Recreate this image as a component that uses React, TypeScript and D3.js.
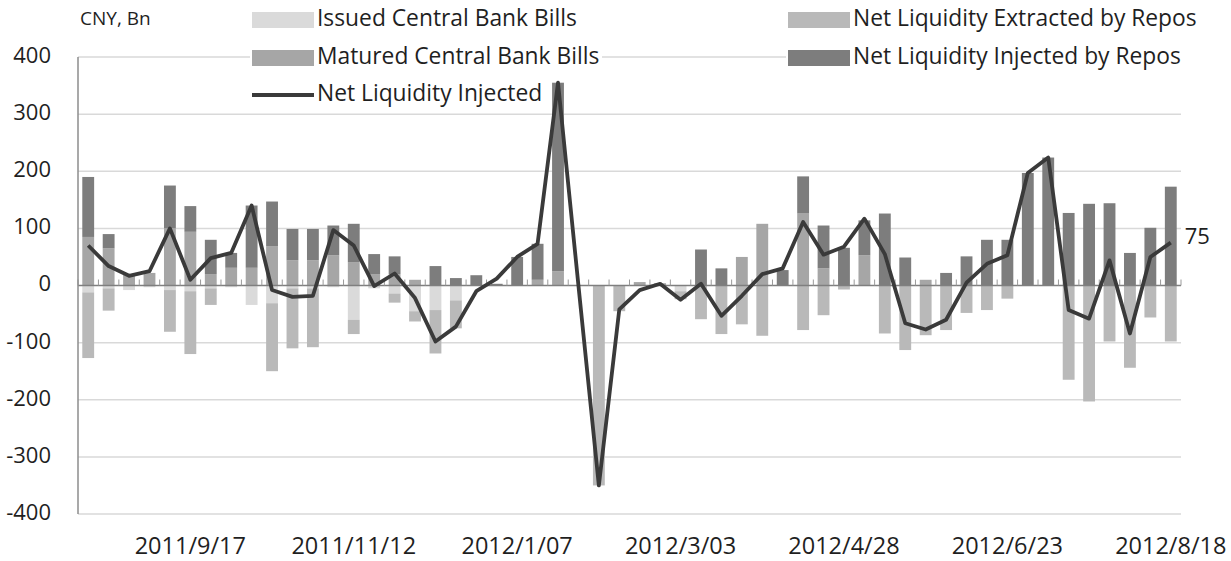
import React from "react";
import * as d3 from "d3";

const weeks = ["2011/8/13","2011/8/20","2011/8/27","2011/9/03","2011/9/10","2011/9/17","2011/9/24","2011/10/01","2011/10/08","2011/10/15","2011/10/22","2011/10/29","2011/11/05","2011/11/12","2011/11/19","2011/11/26","2011/12/03","2011/12/10","2011/12/17","2011/12/24","2011/12/31","2012/1/07","2012/1/14","2012/1/21","2012/1/28","2012/2/04","2012/2/11","2012/2/18","2012/2/25","2012/3/03","2012/3/10","2012/3/17","2012/3/24","2012/3/31","2012/4/07","2012/4/14","2012/4/21","2012/4/28","2012/5/05","2012/5/12","2012/5/19","2012/5/26","2012/6/02","2012/6/09","2012/6/16","2012/6/23","2012/6/30","2012/7/07","2012/7/14","2012/7/21","2012/7/28","2012/8/04","2012/8/11","2012/8/18"];

const tickLabels = ["2011/9/17","2011/11/12","2012/1/07","2012/3/03","2012/4/28","2012/6/23","2012/8/18"];
const yTicks = [400, 300, 200, 100, 0, -100, -200, -300, -400];

const issuedBills = [-12,-5,-8,-3,-8,-10,-5,-3,-34,-31,-5,-5,-3,-60,-5,-14,-45,-43,-26,0,0,0,0,0,0,0,0,0,0,-10,0,0,0,0,0,0,0,0,0,0,0,0,0,0,0,0,0,0,0,0,0,0,0,0];
const maturedBills = [85,65,20,22,100,94,20,31,31,69,44,44,53,41,20,20,10,0,0,0,0,0,10,25,0,0,0,6,4,0,0,0,50,108,0,126,30,0,53,0,0,10,0,0,0,0,0,0,0,0,0,0,0,0];
const extractedRepos = [-115,-39,0,0,-73,-110,-29,0,0,-119,-105,-103,0,-25,0,-16,-18,-76,-49,0,0,0,0,0,0,-350,-45,0,0,-14,-59,-85,-68,-88,0,-78,-52,-7,0,-84,-113,-87,-78,-48,-43,-23,0,0,-165,-203,-98,-144,-56,-98];
const injectedRepos = [105,25,0,0,75,45,60,26,109,78,55,55,52,67,35,31,0,34,13,18,3,50,63,330,0,0,0,0,0,0,63,30,0,0,27,65,75,66,61,126,49,0,22,51,80,80,197,224,127,143,144,57,101,173];
const netInjected = [70,34,17,25,100,10,48,57,140,-8,-20,-18,97,70,-1,21,-22,-98,-72,-10,12,50,73,355,0,-350,-42,-8,3,-25,3,-53,-18,20,30,111,54,68,117,55,-66,-77,-60,5,38,53,197,224,-43,-58,44,-84,50,75];

const seriesKeys = ["issued", "matured", "extracted", "injected"];
const seriesNames: Record<string, string> = {
  issued: "Issued Central Bank Bills",
  matured: "Matured Central Bank Bills",
  extracted: "Net Liquidity Extracted by Repos",
  injected: "Net Liquidity Injected by Repos",
};
const colors: Record<string, string> = {
  issued: "#dadada",
  matured: "#a6a6a6",
  extracted: "#b9b9b9",
  injected: "#7d7d7d",
};

const W = 1231, H = 561;
const left = 78, right = 1181, top = 57, bottom = 514;
const FONT = "'Open Sans', sans-serif";
const TXT = "#1f1f1f";

export default function App() {
  const x = d3.scaleBand<string>().domain(weeks).range([left, right]).paddingInner(0.42).paddingOuter(0.21);
  const y = d3.scaleLinear().domain([-400, 400]).range([bottom, top]);

  const table = weeks.map((w, i) => ({
    week: w,
    issued: issuedBills[i],
    matured: maturedBills[i],
    extracted: extractedRepos[i],
    injected: injectedRepos[i],
  }));
  const stacked = d3.stack<any>().keys(seriesKeys).offset(d3.stackOffsetDiverging)(table);

  const cx = (w: string) => (x(w) as number) + x.bandwidth() / 2;
  const line = d3.line<number>().x((_, i) => cx(weeks[i])).y((d) => y(d));

  const step = x.step();
  const boundaries = weeks.map((w) => (x(w) as number) - (step - x.bandwidth()) / 2).concat([right]);

  const lastX = cx(weeks[weeks.length - 1]);
  const lastY = y(netInjected[netInjected.length - 1]);

  return (
    <svg width={W} height={H} style={{ position: "absolute", left: 0, top: 0, background: "#fff" }} fontFamily={FONT}>
      <rect x={0} y={0} width={W} height={H} fill="#fff" />
      {/* gridlines */}
      {yTicks.filter((t) => t !== 0).map((t) => (
        <line key={t} x1={left} x2={right} y1={y(t)} y2={y(t)} stroke="#d9d9d9" strokeWidth={1.5} />
      ))}
      {/* legend backgrounds hide gridline under legends */}
      <rect x={250} y={0} width={352} height={106} fill="#fff" />
      <rect x={786} y={0} width={404} height={76} fill="#fff" />
      {/* bars */}
      {stacked.map((s) => (
        <g key={s.key} fill={colors[s.key]}>
          {s.map((d, i) => {
            const y0 = y(d[0]), y1 = y(d[1]);
            const h = Math.abs(y0 - y1);
            if (h < 0.01) return null;
            return <rect key={i} x={x(weeks[i])} y={Math.min(y0, y1)} width={x.bandwidth()} height={h} />;
          })}
        </g>
      ))}
      {/* zero axis with ticks */}
      <line x1={left} x2={right} y1={y(0)} y2={y(0)} stroke="#7f7f7f" strokeWidth={1.5} />
      {boundaries.map((b, i) => (
        <line key={i} x1={b} x2={b} y1={y(0)} y2={y(0) - 6} stroke="#9a9a9a" strokeWidth={1} />
      ))}
      {/* vertical axis */}
      <line x1={left} x2={left} y1={top} y2={bottom} stroke="#8c8c8c" strokeWidth={1.5} />
      {/* net liquidity line */}
      <path d={line(netInjected) || ""} fill="none" stroke="#3a3a3a" strokeWidth={3.8} strokeLinejoin="round" />
      <text x={lastX + 14} y={lastY - 5} fontSize={22} fill={TXT} dominantBaseline="middle">75</text>
      {/* y labels */}
      {yTicks.map((t) => (
        <text key={t} x={51} y={y(t)} textAnchor="end" dominantBaseline="middle" fontSize={22} fill={TXT}>{t}</text>
      ))}
      {/* x labels */}
      {tickLabels.map((t) => (
        <text key={t} x={cx(t)} y={548} textAnchor="middle" dominantBaseline="middle" fontSize={23.5} fill={TXT}>{t}</text>
      ))}
      <text x={80} y={20} fontSize={19} fill={TXT} dominantBaseline="middle">CNY, Bn</text>
      {/* legends */}
      {[
        { key: "issued", lx: 252, ly: 20 },
        { key: "matured", lx: 252, ly: 58 },
        { key: "extracted", lx: 788, ly: 20 },
        { key: "injected", lx: 788, ly: 58 },
      ].map((l) => (
        <g key={l.key}>
          <rect x={l.lx} y={l.ly - 8} width={62} height={16} fill={colors[l.key]} />
          <text x={l.lx + 65} y={l.ly} fontSize={22.8} fill={TXT} dominantBaseline="middle">{seriesNames[l.key]}</text>
        </g>
      ))}
      <line x1={252} x2={314} y1={95} y2={95} stroke="#3a3a3a" strokeWidth={3.8} />
      <text x={317} y={95} fontSize={22.8} fill={TXT} dominantBaseline="middle">Net Liquidity Injected</text>
    </svg>
  );
}
